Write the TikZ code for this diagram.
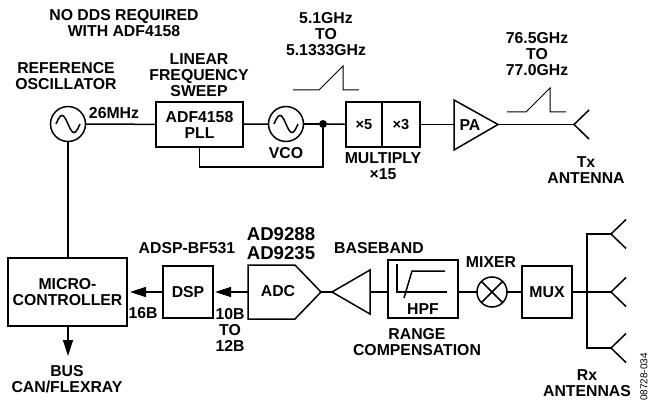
\documentclass[tikz,border=0pt]{standalone}
\usepackage{fontspec}
\setmainfont{Liberation Sans}
\usetikzlibrary{arrows.meta}
\tikzset{
  wire/.style={line width=1.5pt, line join=miter},
  sigarrow/.style={wire, -{Triangle[length=16pt,width=10pt]}},
  lbl/.style={font=\fontsize{15.8}{16}\selectfont\bfseries, align=center, inner sep=0pt, outer sep=0pt},
  blockbox/.style={lbl, draw, line width=1.5pt, rectangle, inner sep=0pt, outer sep=0pt},
  osc/.style={draw, line width=1.5pt, circle, minimum size=35pt, inner sep=0pt, outer sep=0pt},
}
% sine inside an oscillator
\newcommand{\oscwave}[1]{
  \draw[wire, shift={(#1)}] plot[domain=-12:12, samples=25, smooth] (\x,{8.5*sin(\x*15)});
}
% antenna arms at a named point
\newcommand{\antenna}[1]{
  \draw[wire] (#1) -- ++(15,-14.5);
  \draw[wire] (#1) -- ++(15,14.5);
}
\begin{document}
\begin{tikzpicture}[x=1pt, y=-1pt]
\useasboundingbox (0,0) rectangle (650,406);

% Tx chain
\node[osc] (refosc) at (68,124) {};
\oscwave{refosc}
\node[blockbox, minimum width=87pt, minimum height=45pt] (pll) at (199.5,124.5) {ADF4158\\PLL};
\node[osc] (vco) at (286,124) {};
\oscwave{vco}
\node[circle, fill, minimum size=8pt, inner sep=0pt] (tap) at (323,124) {};
\node[blockbox, minimum width=36pt, minimum height=45pt, font=\fontsize{14.6}{16}\selectfont\bfseries] (mulfive) at (364,124.5) {×5};
\node[blockbox, minimum width=38pt, minimum height=45pt, font=\fontsize{14.6}{16}\selectfont\bfseries] (multhree) at (401,124.5) {×3};
\coordinate (patip) at (498,124.5);
\coordinate (paback) at (454,124.5);
\draw[wire] (454,100) -- (patip) -- (454,150) -- cycle;
\node[lbl] (pa) at (470,125) {PA};
\coordinate (txant) at (574,124.5);
\coordinate (fbk) at (323,167);

\draw[wire] (refosc) -- (pll);
\draw[wire] (pll) -- (vco);
\draw[wire] (vco) -- (tap);
\draw[wire] (tap) -- (mulfive);
\draw[wire] (multhree) -- (paback);
\draw[wire] (patip) -- (txant);
\draw[wire] (pll.south) |- (fbk) -- (tap);
\antenna{txant}

% Ramps
\draw[wire, line width=1pt] (293,90) -- (319,90) -- (343,66) -- (343,90) -- (359,90);
\draw[wire, line width=1pt] (507,112) -- (526,112) -- (550,88) -- (550,112) -- (566,112);

% Rx chain
\node[blockbox, minimum width=119pt, minimum height=68pt] (mcu) at (67.5,292) {MICRO-\\CONTROLLER};
\node[blockbox, minimum width=50pt, minimum height=52pt] (dsp) at (188,292) {DSP};
\coordinate (adcback) at (248,292);
\coordinate (adctip) at (321,292);
\draw[wire] (adcback) -- (248,265) -- (295,265) -- (adctip) -- (295,319) -- (248,319) -- cycle;
\node[lbl] (adc) at (278,291) {ADC};
\coordinate (amptip) at (332,292);
\coordinate (ampback) at (370,292);
\draw[wire] (amptip) -- (370,270) -- (370,314) -- cycle;
\node[blockbox, minimum width=70pt, minimum height=58pt] (hpf) at (423,289) {};
\node[lbl] (hpftxt) at (423,309) {HPF};
\draw[wire] (397,264) -- (397,292) -- (447,292);
\draw[wire] (404,298) -- (412,271) -- (445,271);
\node[draw, line width=1.5pt, circle, minimum size=30pt, inner sep=0pt, outer sep=0pt] (mixer) at (492,292) {};
\draw[wire] (mixer.north west) -- (mixer.south east);
\draw[wire] (mixer.north east) -- (mixer.south west);
\node[blockbox, minimum width=50pt, minimum height=52pt] (mux) at (547,292) {MUX};
\coordinate (rxtop) at (611,234);
\coordinate (rxmid) at (611,292);
\coordinate (rxbot) at (611,348);
\coordinate (rxbus) at (587,292);
\coordinate (mcuin) at (130,292);
\coordinate (dspin) at (215,292);
\coordinate (busout) at (68,356);

\draw[wire] (refosc) -- (refosc |- mcu.north);
\draw[sigarrow] (dsp) -- (mcuin);
\draw[sigarrow] (adcback) -- (dspin);
\draw[wire] (adctip) -- (amptip);
\draw[wire] (ampback) -- (ampback -| hpf.west);
\draw[wire] (hpf.east |- mixer) -- (mixer);
\draw[wire] (mixer) -- (mux);
\draw[wire] (mux) -- (rxmid);
\draw[wire] (rxtop) -| (rxbus);
\draw[wire] (rxbot) -| (rxbus);
\draw[sigarrow] (mcu.south -| busout) -- (busout);
\antenna{rxtop}
\antenna{rxmid}
\antenna{rxbot}

% Labels
\node[lbl] (nodds) at (124,23) {NO DDS REQUIRED\\WITH ADF4158};
\node[lbl] (reflbl) at (66,76.5) {REFERENCE\\OSCILLATOR};
\node[lbl] (sweep) at (199,75.5) {LINEAR\\FREQUENCY\\SWEEP};
\node[lbl] (clk) at (114,113) {26MHz};
\node[lbl] (vcolbl) at (286,153) {VCO};
\node[lbl] (lofreq) at (326,34) {5.1GHz\\TO\\5.1333GHz};
\node[lbl] (multlbl) at (383,166.5) {MULTIPLY\\×15};
\node[lbl] (txfreq) at (537,54) {76.5GHz\\TO\\77.0GHz};
\node[lbl] (txlbl) at (586,170.5) {Tx\\ANTENNA};
\node[lbl] (dsplbl) at (187,248) {ADSP-BF531};
\node[lbl, font=\fontsize{18.6}{19}\selectfont\bfseries] (adclbl) at (281,243.5) {AD9288\\AD9235};
\node[lbl] (mcubits) at (143,313) {16B};
\node[lbl] (adcbits) at (230,329.5) {10B\\TO\\12B};
\node[lbl] (buslbl) at (67,379) {BUS\\CAN/FLEXRAY};
\node[lbl] (bblbl) at (379,248) {BASEBAND};
\node[lbl] (rangelbl) at (417,342) {RANGE\\COMPENSATION};
\node[lbl] (mixlbl) at (491,262) {MIXER};
\node[lbl] (rxlbl) at (587,383.5) {Rx\\ANTENNAS};
\node[rotate=90, font=\fontsize{10}{11}\selectfont, inner sep=0pt] (figno) at (644,377) {08728-034};
\end{tikzpicture}
\end{document}
